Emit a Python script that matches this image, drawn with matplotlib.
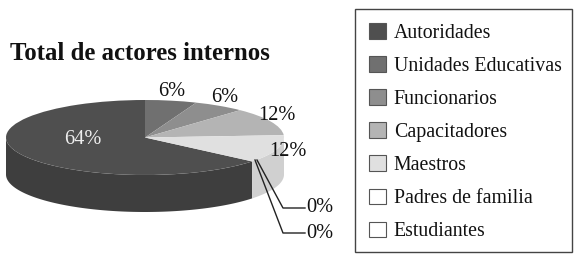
import numpy as np
import matplotlib
matplotlib.use("Agg")
import matplotlib.pyplot as plt
from matplotlib.patches import Patch, Rectangle

plt.rcParams["font.family"] = ["Liberation Serif", "DejaVu Serif"]

W, H = 574, 257
labels = ["Autoridades", "Unidades Educativas", "Funcionarios", "Capacitadores",
          "Maestros", "Padres de familia", "Estudiantes"]
values = [64, 6, 6, 12, 12, 0, 0]
colors = ["#4f4f4f", "#707070", "#8e8e8e", "#b4b4b4", "#e0e0e0", "#ffffff", "#ffffff"]
side_colors = ["#3e3e3e", "#5a5a5a", "#747474", "#999999", "#d0d0d0", "#eeeeee", "#eeeeee"]
title = "Total de actores internos"

# pie geometry in pixels
CX, CY, RX, RY, DEPTH = 145, 137.5, 139, 37.5, 37

fig = plt.figure(figsize=(W / 100, H / 100), dpi=100, facecolor="white")

# overlay in pixel coords for text and leader lines
ov = fig.add_axes([0, 0, 1, 1], zorder=3)
ov.set_xlim(0, W); ov.set_ylim(H, 0); ov.axis("off"); ov.patch.set_alpha(0)

# pie axes: unit circle squashed to the ellipse
ax = fig.add_axes([(CX - RX) / W, 1 - (CY + RY + DEPTH) / H, 2 * RX / W, (2 * RY + DEPTH) / H])
start = 90 + 360 * values[0] / 100
ax.pie(values, colors=colors, startangle=start, counterclock=False, radius=1,
       wedgeprops=dict(linewidth=0))
ax.set_aspect("auto")
d = DEPTH / RY
ax.set_xlim(-1, 1); ax.set_ylim(-1 - d, 1)

# extruded side, only the front half shows
angle = start
for v, c in zip(values, side_colors):
    a0, a1 = angle, angle - 360 * v / 100
    angle = a1
    if a1 < 0:                      # wrapped past 3 o'clock
        a0, a1 = a0 + 360, a1 + 360
    hi = min(a0, 360)
    lo = max(a1, 180)
    if v == 0 or hi <= lo:
        continue
    t = np.radians(np.linspace(lo, hi, 120))
    ax.fill(np.r_[np.cos(t), np.cos(t[::-1])], np.r_[np.sin(t), np.sin(t[::-1]) - d],
            color=c, lw=0, zorder=0)

# percent labels
label_xy = [(83, 139), (172, 92), (225, 98), (277, 115), (288, 151), (320, 208), (320, 234)]
for i, (x, y) in enumerate(label_xy):
    ov.text(x, y, f"{values[i]}%", ha="center", va="center", fontsize=14.7,
            color="#eeeeee" if i == 0 else "#111111")

# leader lines of the two 0% slices
ov.plot([257, 283, 305], [160, 208, 208], color="#222222", lw=1)
ov.plot([255, 283, 305], [160, 233, 233], color="#222222", lw=1)

ov.text(10, 54, title, fontsize=17.8, fontweight="bold", ha="left", va="center", color="#111111")

# legend box is drawn apart, its padding is uneven in the reference
ov.add_patch(Rectangle((354.5, 8.5), 217, 243, facecolor="none", edgecolor="#444444", lw=1))
handles = [Patch(facecolor=c, edgecolor="#555555", linewidth=0.8) for c in colors]
leg = fig.legend(handles, labels, loc="upper left", bbox_to_anchor=(369 / W, 1 - 23 / H),
                 fontsize=14.3, frameon=False,
                 handlelength=0.85, handleheight=0.85, handletextpad=0.4,
                 labelspacing=0.67, borderpad=0, borderaxespad=0, labelcolor="#111111")

fig.savefig("out.png", dpi=100, facecolor="white")
